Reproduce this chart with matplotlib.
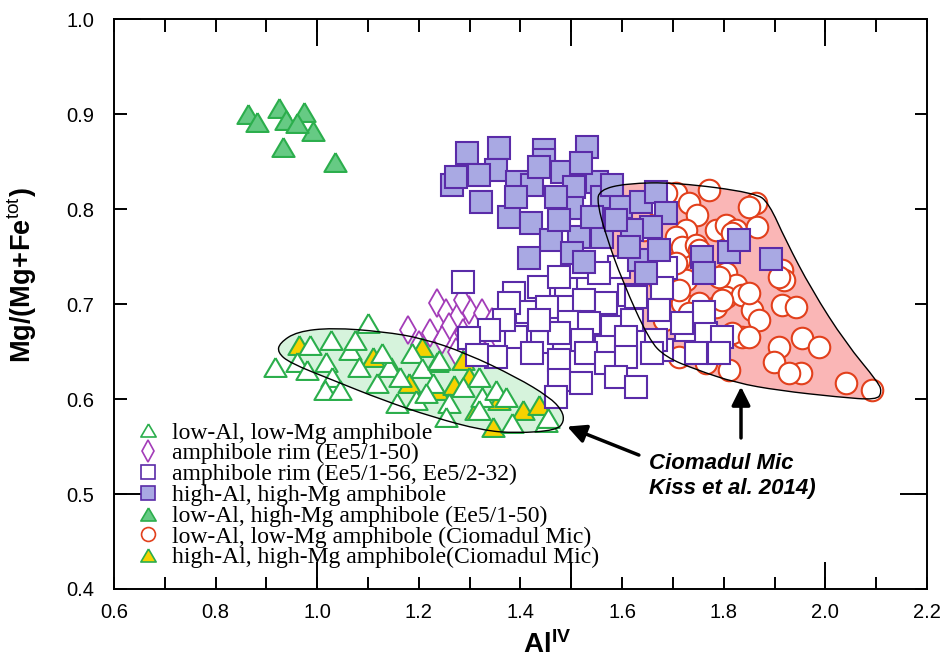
import matplotlib
matplotlib.use('Agg')
import matplotlib.pyplot as plt
from matplotlib.path import Path
from matplotlib.patches import PathPatch
from matplotlib.lines import Line2D
from matplotlib.ticker import MultipleLocator, FuncFormatter

plt.rcParams['font.family'] = ['Liberation Sans', 'DejaVu Sans']
plt.rcParams['mathtext.fontset'] = 'custom'
plt.rcParams['mathtext.rm'] = 'Liberation Sans'
plt.rcParams['mathtext.bf'] = 'Liberation Sans:bold'
plt.rcParams['mathtext.it'] = 'Liberation Sans:italic'

# --- data (Al IV, Mg/(Mg+Fe)) ---
# low-Al, low-Mg amphibole (open green triangles)
lowal_lowmg_x = [1.099, 0.916, 0.960, 1.028, 1.018, 1.064, 1.030, 1.083, 1.117, 1.142, 1.127, 1.187,
                 1.162, 1.207, 1.240, 1.227, 1.286, 1.319, 1.260, 1.195, 1.156, 1.325, 1.352, 1.372,
                 1.319, 1.384, 1.451, 1.015, 0.979, 1.044, 1.254, 1.215, 0.985, 1.074, 1.455]
lowal_lowmg_y = [0.680, 0.634, 0.639, 0.662, 0.639, 0.652, 0.623, 0.634, 0.617, 0.634, 0.648, 0.648,
                 0.623, 0.633, 0.641, 0.617, 0.613, 0.623, 0.596, 0.599, 0.596, 0.602, 0.609, 0.602,
                 0.588, 0.575, 0.576, 0.609, 0.631, 0.609, 0.581, 0.606, 0.657, 0.662, 0.580]

# amphibole rim (Ee5/1-50) (purple diamonds)
rim50_x = [1.178, 1.235, 1.254, 1.276, 1.299, 1.325, 1.343, 1.260, 1.286, 1.246, 1.274, 1.303,
           1.325, 1.221, 1.284, 1.201, 1.339]
rim50_y = [0.673, 0.701, 0.691, 0.685, 0.694, 0.691, 0.681, 0.676, 0.669, 0.662, 0.649, 0.660,
           0.669, 0.669, 0.704, 0.657, 0.652]

# amphibole rim (Ee5/1-56, Ee5/2-32) (open squares)
rim56_x = [1.286, 1.437, 1.490, 1.388, 1.525, 1.569, 1.614, 1.686, 1.679, 1.594, 1.413, 1.453,
           1.496, 1.535, 1.580, 1.620, 1.392, 1.443, 1.476, 1.521, 1.569, 1.608, 1.352, 1.423,
           1.476, 1.529, 1.569, 1.608, 1.476, 1.519, 1.588, 1.627, 1.470, 1.679, 1.726, 1.765,
           1.796, 1.791, 1.745, 1.761, 1.718, 1.667, 1.659, 1.378, 1.516, 1.555, 1.476, 1.627,
           1.673, 1.437, 1.368, 1.339, 1.299, 1.315]
rim56_y = [0.723, 0.718, 0.720, 0.712, 0.704, 0.701, 0.709, 0.738, 0.717, 0.739, 0.692, 0.697,
           0.681, 0.680, 0.676, 0.683, 0.665, 0.660, 0.669, 0.662, 0.655, 0.665, 0.644, 0.648,
           0.641, 0.648, 0.638, 0.644, 0.620, 0.617, 0.623, 0.613, 0.602, 0.652, 0.673, 0.669,
           0.665, 0.648, 0.648, 0.692, 0.680, 0.662, 0.648, 0.701, 0.739, 0.733, 0.728, 0.707,
           0.694, 0.683, 0.683, 0.673, 0.664, 0.646]

# high-Al, high-Mg amphibole (filled lavender squares)
highal_x = [1.295, 1.358, 1.447, 1.531, 1.447, 1.352, 1.266, 1.323, 1.394, 1.423, 1.482, 1.506,
            1.551, 1.378, 1.421, 1.461, 1.502, 1.561, 1.598, 1.637, 1.667, 1.686, 1.657, 1.620,
            1.561, 1.516, 1.417, 1.633, 1.647, 1.757, 1.761, 1.810, 1.830, 1.893, 1.476, 1.470,
            1.588, 1.541, 1.319, 1.274, 1.437, 1.519, 1.392, 1.580, 1.502, 1.614, 1.673, 1.525]
highal_y = [0.859, 0.864, 0.862, 0.865, 0.852, 0.841, 0.825, 0.807, 0.828, 0.825, 0.839, 0.823,
            0.828, 0.792, 0.785, 0.767, 0.801, 0.813, 0.802, 0.807, 0.818, 0.796, 0.781, 0.778,
            0.771, 0.771, 0.748, 0.746, 0.733, 0.749, 0.733, 0.755, 0.767, 0.747, 0.788, 0.813,
            0.788, 0.792, 0.836, 0.834, 0.844, 0.848, 0.813, 0.825, 0.754, 0.760, 0.757, 0.744]

# low-Al, high-Mg amphibole (Ee5/1-50) (filled green triangles)
lowal_highmg_x = [0.863, 0.881, 0.924, 0.938, 0.973, 0.932, 0.991, 1.034, 0.960]
lowal_highmg_y = [0.900, 0.892, 0.906, 0.894, 0.902, 0.865, 0.882, 0.849, 0.891]

# low-Al, low-Mg amphibole (Ciomadul Mic) (open red circles)
cio_low_x = [1.706, 1.732, 1.747, 1.686, 1.726, 1.706, 1.712, 1.726, 1.718, 1.732, 1.785, 1.804,
             1.824, 1.863, 1.849, 1.865, 1.804, 1.824, 1.804, 1.836, 1.855, 1.869, 1.785, 1.757,
             1.791, 1.836, 1.810, 1.765, 1.914, 1.918, 1.914, 1.942, 1.908, 1.899, 1.954, 1.987,
             1.952, 2.040, 2.091, 1.712, 1.751, 1.718, 1.706, 1.712, 1.816, 1.791, 1.849, 1.908,
             1.796, 1.816, 1.849, 1.928, 1.732, 1.669, 1.643, 1.673, 1.683, 1.745, 1.771, 1.751]
cio_low_y = [0.817, 0.806, 0.794, 0.817, 0.778, 0.771, 0.746, 0.725, 0.701, 0.683, 0.778, 0.783,
             0.778, 0.806, 0.802, 0.781, 0.733, 0.720, 0.707, 0.709, 0.694, 0.683, 0.697, 0.680,
             0.664, 0.665, 0.631, 0.638, 0.736, 0.725, 0.699, 0.697, 0.655, 0.639, 0.664, 0.655,
             0.627, 0.617, 0.609, 0.644, 0.701, 0.760, 0.743, 0.715, 0.775, 0.728, 0.712, 0.728,
             0.704, 0.669, 0.665, 0.627, 0.691, 0.804, 0.778, 0.725, 0.683, 0.762, 0.820, 0.757]

# high-Al, high-Mg amphibole (Ciomadul Mic) (yellow triangles)
cio_high_x = [0.965, 1.109, 1.146, 1.207, 1.235, 1.286, 1.299, 1.313, 1.404, 1.437, 1.345, 1.235,
              1.270, 1.181, 1.358]
cio_high_y = [0.657, 0.644, 0.634, 0.655, 0.639, 0.641, 0.623, 0.588, 0.588, 0.594, 0.571, 0.609,
              0.615, 0.617, 0.599]

# outlined fields (Ciomadul Mic, Kiss et al. 2014)
pink_field_x = [1.555, 1.608, 1.706, 1.863, 1.889, 1.922, 1.973, 2.040, 2.105, 2.111, 2.101, 2.026,
                1.908, 1.824, 1.745, 1.686, 1.653, 1.600, 1.569, 1.551]
pink_field_y = [0.820, 0.827, 0.828, 0.817, 0.806, 0.767, 0.715, 0.659, 0.617, 0.607, 0.599, 0.602,
                0.609, 0.617, 0.631, 0.644, 0.662, 0.725, 0.771, 0.806]
green_field_x = [0.926, 0.960, 1.030, 1.128, 1.207, 1.294, 1.392, 1.457, 1.482, 1.486, 1.470, 1.392,
                 1.325, 1.227, 1.128, 1.030, 0.946, 0.922]
green_field_y = [0.659, 0.671, 0.675, 0.671, 0.664, 0.648, 0.623, 0.602, 0.588, 0.576, 0.567, 0.564,
                 0.567, 0.581, 0.599, 0.620, 0.638, 0.649]

labels = ['low-Al, low-Mg amphibole',
          'amphibole rim (Ee5/1-50)',
          'amphibole rim (Ee5/1-56, Ee5/2-32)',
          'high-Al, high-Mg amphibole',
          'low-Al, high-Mg amphibole (Ee5/1-50)',
          'low-Al, low-Mg amphibole (Ciomadul Mic)',
          'high-Al, high-Mg amphibole(Ciomadul Mic)']

GREEN_EDGE = '#2bae4c'
GREEN_FILL = '#66ca84'
YELLOW = '#f6d200'
PURPLE = '#a33cb8'
SQ_EDGE = '#5a2ba8'
SQ_FILL = '#a9a9e3'
RED = '#e2401c'
PINK = '#fab6b6'
LIGHTGREEN = '#d6f3dc'

tri = [(0, 0.85), (-1, -0.85), (1, -0.85), (0, 0.85)]


def smooth_closed(xs, ys):
    # quadratic spline through midpoints of the outline vertices
    pts = list(zip(xs, ys))
    n = len(pts)
    mids = [((pts[i][0] + pts[(i + 1) % n][0]) / 2, (pts[i][1] + pts[(i + 1) % n][1]) / 2) for i in range(n)]
    verts = [mids[0]]
    codes = [Path.MOVETO]
    for i in range(1, n + 1):
        verts += [pts[i % n], mids[i % n]]
        codes += [Path.CURVE3, Path.CURVE3]
    return Path(verts, codes)


fig = plt.figure(figsize=(9.43, 6.70), dpi=100)
ax = fig.add_axes([0.1209, 0.1209, 0.8621, 0.8507])

pink_path = smooth_closed(pink_field_x, pink_field_y)
green_path = smooth_closed(green_field_x, green_field_y)
ax.add_patch(PathPatch(pink_path, facecolor=PINK, edgecolor='none', zorder=1))
ax.add_patch(PathPatch(green_path, facecolor=LIGHTGREEN, edgecolor='none', zorder=1))

ax.plot(cio_low_x, cio_low_y, ls='none', marker='o', ms=15.5, mfc='white', mec=RED, mew=1.5, zorder=2)
ax.plot(rim50_x, rim50_y, ls='none', marker='d', ms=14, mfc='white', mec=PURPLE, mew=1.3, zorder=3)
ax.plot(cio_high_x, cio_high_y, ls='none', marker=tri, ms=16, mfc=YELLOW, mec=GREEN_EDGE, mew=1.5, zorder=4)
ax.plot(lowal_lowmg_x, lowal_lowmg_y, ls='none', marker=tri, ms=16, mfc='white', mec=GREEN_EDGE, mew=1.5, zorder=5)
ax.plot(rim56_x, rim56_y, ls='none', marker='s', ms=15.5, mfc='white', mec=SQ_EDGE, mew=1.5, zorder=6)
ax.plot(highal_x, highal_y, ls='none', marker='s', ms=15.5, mfc=SQ_FILL, mec=SQ_EDGE, mew=1.5, zorder=7)
ax.plot(lowal_highmg_x, lowal_highmg_y, ls='none', marker=tri, ms=16, mfc=GREEN_FILL, mec=GREEN_EDGE, mew=1.5, zorder=7)

ax.add_patch(PathPatch(pink_path, facecolor='none', edgecolor='black', lw=1.0, zorder=8))
ax.add_patch(PathPatch(green_path, facecolor='none', edgecolor='black', lw=1.0, zorder=8))

arrow = dict(arrowstyle='-|>', color='black', lw=2.5, mutation_scale=28, shrinkA=0, shrinkB=0)
ax.annotate('', xy=(1.492, 0.571), xytext=(1.633, 0.541), arrowprops=arrow, zorder=9)
ax.annotate('', xy=(1.834, 0.613), xytext=(1.834, 0.559), arrowprops=arrow, zorder=9)
ax.text(1.653, 0.519, 'Ciomadul Mic\nKiss et al. 2014)', fontsize=16, fontweight='bold', style='italic',
        va='center', ha='left', linespacing=1.25, zorder=9)

ax.set_xlim(0.6, 2.2)
ax.set_ylim(0.4, 1.0)

ax.xaxis.set_major_locator(MultipleLocator(0.1))
ax.xaxis.set_minor_locator(MultipleLocator(0.5))
ax.xaxis.set_major_formatter(FuncFormatter(lambda v, p: f'{v:.1f}' if round(v * 10) % 2 == 0 else ''))
ax.yaxis.set_major_locator(MultipleLocator(0.1))
ax.yaxis.set_minor_locator(MultipleLocator(0.5))
ax.yaxis.set_major_formatter(FuncFormatter(lambda v, p: f'{v:.1f}'))
ax.xaxis.remove_overlapping_locs = False
ax.yaxis.remove_overlapping_locs = False
ax.tick_params(which='both', direction='in', top=True, right=True, width=1.4, labelsize=14.5)
ax.tick_params(which='major', length=9)
ax.tick_params(which='minor', length=19.5)
ax.tick_params(axis='x', which='major', pad=10)
ax.tick_params(axis='y', which='major', pad=14)
for s in ax.spines.values():
    s.set_linewidth(1.4)

ax.set_xlabel(r'$\mathbf{Al}^{\mathbf{IV}}$', fontsize=20)
ax.xaxis.set_label_coords(0.533, -0.074)
ax.set_ylabel(r'$\mathbf{Mg/(Mg\!+\!Fe}^{\mathrm{tot}}\mathbf{)}$', fontsize=19.5)
ax.yaxis.set_label_coords(-0.092, 0.55)

handles = [
    Line2D([], [], ls='none', marker=tri, ms=11, mfc='white', mec=GREEN_EDGE, mew=1.2),
    Line2D([], [], ls='none', marker='d', ms=11, mfc='white', mec=PURPLE, mew=1.2),
    Line2D([], [], ls='none', marker='s', ms=10, mfc='white', mec=SQ_EDGE, mew=1.2),
    Line2D([], [], ls='none', marker='s', ms=10, mfc=SQ_FILL, mec=SQ_EDGE, mew=1.2),
    Line2D([], [], ls='none', marker=tri, ms=11, mfc=GREEN_FILL, mec=GREEN_EDGE, mew=1.2),
    Line2D([], [], ls='none', marker='o', ms=10, mfc='white', mec=RED, mew=1.2),
    Line2D([], [], ls='none', marker=tri, ms=11, mfc=YELLOW, mec=GREEN_EDGE, mew=1.2),
]
leg = ax.legend(handles, labels, loc='upper left', bbox_to_anchor=(0.028, 0.293), frameon=False,
                prop={'family': 'Liberation Serif', 'size': 17}, handlelength=0.95, handletextpad=0.55,
                labelspacing=-0.03, borderpad=0, borderaxespad=0)
leg.set_zorder(10)

fig.savefig('out.png', dpi=100)
